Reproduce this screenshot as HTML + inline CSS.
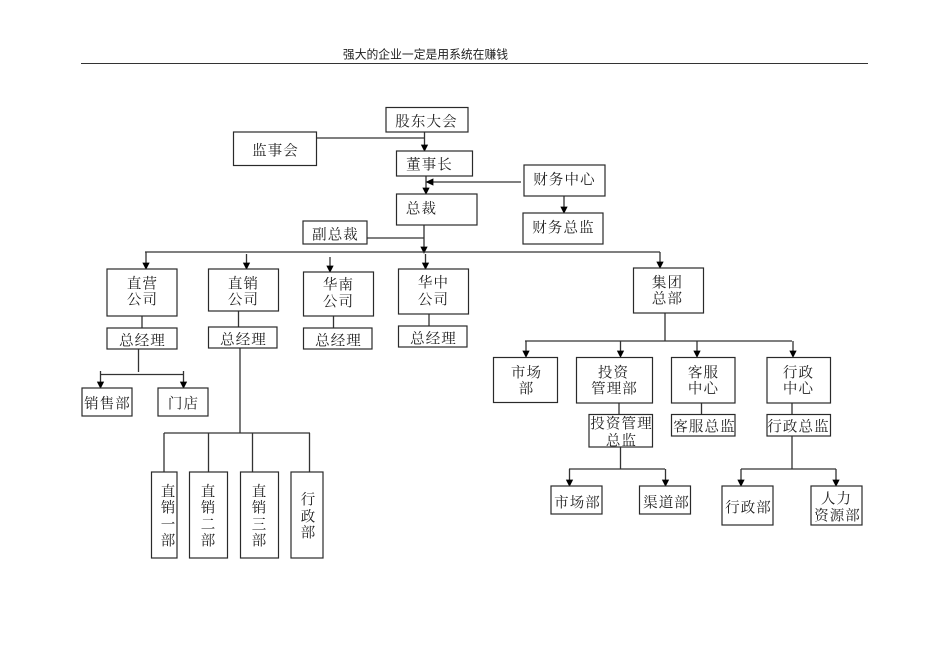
<!DOCTYPE html>
<html><head><meta charset="utf-8">
<style>
html,body{margin:0;padding:0;background:#fff}
svg{display:block}
text{font-family:"Liberation Serif","Noto Serif CJK SC",serif;font-size:14.5px;letter-spacing:1.1px;fill:#222;text-anchor:middle;dominant-baseline:central}
text.h{font-family:"Liberation Sans","Noto Sans CJK SC",sans-serif;font-size:11.8px;letter-spacing:0;fill:#222}
rect{fill:#fff;stroke:#2a2a2a;stroke-width:1.2}
line{stroke:#333;stroke-width:1.3}
polygon{fill:#000;stroke:#000;stroke-width:.8;stroke-linejoin:miter}
</style></head>
<body>
<svg width="950" height="672" viewBox="0 0 950 672" xmlns="http://www.w3.org/2000/svg">
<text class="h" x="425.500" y="54.500">强大的企业一定是用系统在赚钱</text>
<line x1="81" y1="63.500" x2="868" y2="63.500" style="stroke-width:1"/>
<!-- connectors -->
<line x1="424.500" y1="132" x2="424.500" y2="146"/><line x1="317" y1="138" x2="424" y2="138"/>
<polygon points="421.500,145 427.500,145 424.500,151"/>
<line x1="426" y1="176" x2="426" y2="189"/><polygon points="423,188 429,188 426,194"/>
<line x1="432" y1="182" x2="521" y2="182"/><polygon points="433,179 433,185 426.500,182"/>
<line x1="564" y1="196" x2="564" y2="208"/><polygon points="561,207 567,207 564,213"/>
<line x1="424" y1="225" x2="424" y2="247"/><line x1="367" y1="238" x2="424" y2="238"/>
<polygon points="421,247 427,247 424,253"/>
<line x1="145" y1="252" x2="660" y2="252"/>
<line x1="146" y1="252" x2="146" y2="264"/><polygon points="143,263 149,263 146,269"/>
<line x1="246.500" y1="254" x2="246.500" y2="264"/><polygon points="243.500,263 249.500,263 246.500,269"/>
<line x1="330" y1="257" x2="330" y2="267"/><polygon points="327,266 333,266 330,272"/>
<line x1="425.500" y1="254" x2="425.500" y2="264"/><polygon points="422.500,263 428.500,263 425.500,269"/>
<line x1="660" y1="252" x2="660" y2="263"/><polygon points="657,262 663,262 660,268"/>
<line x1="142" y1="316" x2="142" y2="328"/><line x1="238.500" y1="311" x2="238.500" y2="327"/>
<line x1="333.500" y1="316" x2="333.500" y2="328"/><line x1="429" y1="314" x2="429" y2="326"/>
<line x1="138.500" y1="349" x2="138.500" y2="372"/><line x1="100.500" y1="374.500" x2="183.500" y2="374.500"/>
<line x1="100.500" y1="371" x2="100.500" y2="384"/><polygon points="97.500,382 103.500,382 100.500,388"/>
<line x1="183.500" y1="371" x2="183.500" y2="384"/><polygon points="180.500,382 186.500,382 183.500,388"/>
<line x1="240" y1="348" x2="240" y2="433"/><line x1="164" y1="433" x2="310" y2="433"/>
<line x1="164" y1="433" x2="164" y2="472"/><line x1="208.500" y1="433" x2="208.500" y2="472"/>
<line x1="252.500" y1="433" x2="252.500" y2="472"/><line x1="309.500" y1="433" x2="309.500" y2="472"/>
<line x1="665" y1="313" x2="665" y2="341"/><line x1="525" y1="341" x2="792" y2="341"/>
<line x1="526" y1="341" x2="526" y2="352"/><polygon points="523,351 529,351 526,357"/>
<line x1="620.500" y1="341" x2="620.500" y2="352"/><polygon points="617.500,351 623.500,351 620.500,357"/>
<line x1="697" y1="341" x2="697" y2="352"/><polygon points="694,351 700,351 697,357"/>
<line x1="793" y1="341" x2="793" y2="352"/><polygon points="790,351 796,351 793,357"/>
<line x1="619" y1="403" x2="619" y2="414"/><line x1="701.500" y1="403" x2="701.500" y2="414"/><line x1="792" y1="403" x2="792" y2="414"/>
<line x1="620.500" y1="447" x2="620.500" y2="469"/><line x1="569" y1="469" x2="665" y2="469"/>
<line x1="569.500" y1="469" x2="569.500" y2="481"/><polygon points="566.500,480 572.500,480 569.500,486"/>
<line x1="665.500" y1="469" x2="665.500" y2="481"/><polygon points="662.500,480 668.500,480 665.500,486"/>
<line x1="792" y1="436" x2="792" y2="469"/><line x1="741" y1="469" x2="836" y2="469"/>
<line x1="741" y1="469" x2="741" y2="481"/><polygon points="738,480 744,480 741,486"/>
<line x1="836" y1="469" x2="836" y2="481"/><polygon points="833,480 839,480 836,486"/>
<!-- boxes -->
<rect x="386" y="107.500" width="82" height="24.500"/>
<rect x="233.500" y="132" width="83" height="33.500"/>
<rect x="396.500" y="151" width="76" height="25"/>
<rect x="524" y="165" width="81" height="31"/>
<rect x="523" y="213" width="80" height="31"/>
<rect x="396.500" y="194" width="80.500" height="31"/>
<rect x="303" y="221" width="64" height="23"/>
<rect x="107" y="269" width="70" height="47"/>
<rect x="208.500" y="269" width="70" height="42"/>
<rect x="303.500" y="272" width="70" height="44"/>
<rect x="398.500" y="269" width="70" height="45"/>
<rect x="107" y="328" width="70" height="21"/>
<rect x="208.500" y="327" width="68.500" height="21"/>
<rect x="303.500" y="328" width="68.500" height="21"/>
<rect x="398.500" y="326" width="68.500" height="21"/>
<rect x="82" y="388" width="50" height="28"/>
<rect x="158" y="388" width="50" height="28"/>
<rect x="151.500" y="472" width="25.500" height="86"/>
<rect x="189.500" y="472" width="38" height="86"/>
<rect x="240.500" y="472" width="38" height="86"/>
<rect x="291" y="472" width="32" height="86"/>
<rect x="633.500" y="268" width="70" height="45"/>
<rect x="493.500" y="357.500" width="64" height="45"/>
<rect x="576.500" y="357.500" width="76" height="45.500"/>
<rect x="671.500" y="357.500" width="63.500" height="45.500"/>
<rect x="767" y="357.500" width="63.500" height="45.500"/>
<rect x="589" y="414.500" width="63.500" height="32.500"/>
<rect x="671.500" y="414.500" width="63.500" height="21.500"/>
<rect x="767" y="414.500" width="63.500" height="21.500"/>
<rect x="551" y="486" width="51" height="28"/>
<rect x="639.500" y="486" width="51" height="28"/>
<rect x="722" y="486" width="51" height="39"/>
<rect x="811" y="486" width="51" height="39"/>
<!-- labels -->
<g transform="translate(0.500,1.700)">
<text x="426" y="121">股东大会</text>
<text x="275" y="150">监事会</text>
<text x="429" y="164">董事长</text>
<text x="421" y="208">总裁</text>
<text x="564" y="179">财务中心</text>
<text x="563" y="227">财务总监</text>
<text x="335" y="234">副总裁</text>
<text x="142" y="283">直营</text><text x="142" y="299">公司</text>
<text x="243" y="283">直销</text><text x="243" y="299">公司</text>
<text x="338" y="284">华南</text><text x="338" y="301">公司</text>
<text x="433" y="282">华中</text><text x="433" y="299">公司</text>
<text x="142" y="340">总经理</text>
<text x="243" y="339">总经理</text>
<text x="338" y="340">总经理</text>
<text x="433" y="338">总经理</text>
<text x="107" y="403">销售部</text>
<text x="183" y="403">门店</text>
<text x="168" y="491">直</text><text x="168" y="507">销</text><text x="168" y="524">一</text><text x="168" y="540">部</text>
<text x="208" y="491">直</text><text x="208" y="507">销</text><text x="208" y="524">二</text><text x="208" y="540">部</text>
<text x="259" y="491">直</text><text x="259" y="507">销</text><text x="259" y="524">三</text><text x="259" y="540">部</text>
<text x="308" y="499">行</text><text x="308" y="516">政</text><text x="308" y="532">部</text>
<text x="667" y="282">集团</text><text x="667" y="298">总部</text>
<text x="526" y="372">市场</text><text x="526" y="388">部</text>
<text x="613" y="372">投资</text><text x="614" y="388">管理部</text>
<text x="703" y="372">客服</text><text x="703" y="388">中心</text>
<text x="798" y="372">行政</text><text x="798" y="388">中心</text>
<text x="621" y="423">投资管理</text><text x="621" y="440">总监</text>
<text x="704" y="426">客服总监</text>
<text x="798" y="426">行政总监</text>
<text x="577" y="502">市场部</text>
<text x="666" y="502">渠道部</text>
<text x="748" y="507">行政部</text>
<text x="836" y="498">人力</text><text x="837" y="515">资源部</text>
</g>
</svg>
</body></html>
